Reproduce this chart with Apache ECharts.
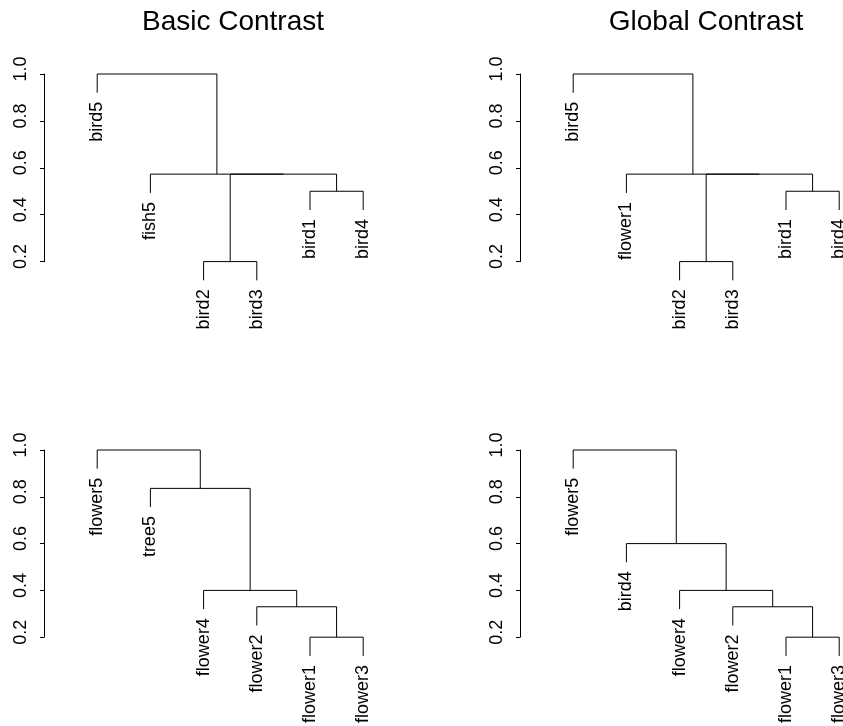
<!DOCTYPE html>
<html>
<head>
<meta charset="utf-8">
<script src="https://cdn.jsdelivr.net/npm/echarts@6/dist/echarts.min.js"></script>
<style>html,body{margin:0;padding:0;background:#fff}#c{width:843px;height:726px}</style>
</head>
<body>
<div id="c"></div>
<script>
// ---- data ----
const titles = ['Basic Contrast', 'Global Contrast'];
const yTicks = [0.2, 0.4, 0.6, 0.8, 1.0];

// leaves in plotting order; merges use R hclust convention (negative = leaf, positive = earlier merge)
const tlLabels = ['bird5', 'fish5', 'bird2', 'bird3', 'bird1', 'bird4'];
const tlMerge = [[-3, -4], [-5, -6], [1, 2], [-2, 3], [-1, 4]];
const tlHeight = [0.2, 0.5, 0.573, 0.573, 1.0];

const trLabels = ['bird5', 'flower1', 'bird2', 'bird3', 'bird1', 'bird4'];
const trMerge = [[-3, -4], [-5, -6], [1, 2], [-2, 3], [-1, 4]];
const trHeight = [0.2, 0.5, 0.573, 0.573, 1.0];

const blLabels = ['flower5', 'tree5', 'flower4', 'flower2', 'flower1', 'flower3'];
const blMerge = [[-5, -6], [-4, 1], [-3, 2], [-2, 3], [-1, 4]];
const blHeight = [0.2, 0.33, 0.4, 0.836, 1.0];

const brLabels = ['flower5', 'bird4', 'flower4', 'flower2', 'flower1', 'flower3'];
const brMerge = [[-5, -6], [-4, 1], [-3, 2], [-2, 3], [-1, 4]];
const brHeight = [0.2, 0.33, 0.4, 0.6, 1.0];

// ---- build dendrogram segments in data space ----
function build(labels, merge, height) {
  const hang = 0.1 * (Math.max.apply(null, height) - Math.min.apply(null, height));
  const segs = [], leaves = [];
  const nx = [], ny = [];
  function pos(r) {
    if (r < 0) return { x: -r, leaf: true };
    return { x: nx[r - 1], y: ny[r - 1], leaf: false };
  }
  merge.forEach(function (m, i) {
    const h = height[i];
    const a = pos(m[0]), b = pos(m[1]);
    [a, b].forEach(function (c) {
      const bottom = c.leaf ? h - hang : c.y;
      if (bottom !== h) segs.push([c.x, h, c.x, bottom]);
      if (c.leaf) leaves.push([c.x, h - hang, labels[c.x - 1]]);
    });
    segs.push([a.x, h, b.x, h]);
    nx.push((a.x + b.x) / 2);
    ny.push(h);
  });
  return { segs: segs, leaves: leaves };
}

const trees = [
  build(tlLabels, tlMerge, tlHeight),
  build(trLabels, trMerge, trHeight),
  build(blLabels, blMerge, blHeight),
  build(brLabels, brMerge, brHeight)
];

const FONT = "'Liberation Sans', Arial, Helvetica, sans-serif";
const fullW = 372.4;          // width of a full panel (x range 0..7)
const rightW = 843 - 520;     // right panels are cut by the page edge
const panelLeft = [44, 520, 44, 520];
const panelTop = [74, 74, 450, 450];
const panelH = [187.6, 187.6, 187.2, 187.2];
const panelW = [fullW, rightW, fullW, rightW];

const grids = [], xAxes = [], yAxes = [], series = [];
for (let i = 0; i < 4; i++) {
  grids.push({ left: panelLeft[i], top: panelTop[i], width: panelW[i], height: panelH[i], containLabel: false });
  xAxes.push({ type: 'value', gridIndex: i, min: 0, max: 7 * panelW[i] / fullW, show: false });
  yAxes.push({
    type: 'value', gridIndex: i, min: yTicks[0], max: yTicks[yTicks.length - 1], interval: 0.2,
    axisLine: { show: true, lineStyle: { color: '#000', width: 1 } },
    axisTick: { show: true, length: 4, lineStyle: { color: '#000', width: 1 } },
    splitLine: { show: false },
    axisLabel: {
      rotate: 90, margin: 14, color: '#000', fontSize: 18, fontFamily: FONT,
      padding: [0, 0, 0, 10],
      formatter: function (v) { return v.toFixed(1); }
    }
  });
  series.push({
    type: 'custom', xAxisIndex: i, yAxisIndex: i, clip: false, silent: true,
    data: trees[i].segs,
    encode: { x: [0, 2], y: [1, 3] },
    renderItem: function (params, api) {
      const p1 = api.coord([api.value(0), api.value(1)]);
      const p2 = api.coord([api.value(2), api.value(3)]);
      return {
        type: 'line',
        shape: { x1: p1[0], y1: p1[1], x2: p2[0], y2: p2[1] },
        style: { stroke: '#000', lineWidth: 1 }
      };
    }
  });
  series.push({
    type: 'custom', xAxisIndex: i, yAxisIndex: i, clip: false, silent: true,
    data: trees[i].leaves,
    dimensions: ['x', 'y', { name: 'label', type: 'ordinal' }],
    encode: { x: 0, y: 1 },
    renderItem: function (params, api) {
      const p = api.coord([api.value(0), api.value(1)]);
      return {
        type: 'text',
        x: p[0], y: p[1] + 9, rotation: Math.PI / 2,
        style: {
          text: String(api.value(2)), fill: '#000', fontSize: 18, fontFamily: FONT,
          align: 'right', verticalAlign: 'middle', textAlign: 'right', textVerticalAlign: 'middle'
        }
      };
    }
  });
}

const chart = echarts.init(document.getElementById('c'), null, { renderer: 'canvas' });
chart.setOption({
  animation: false,
  backgroundColor: '#fff',
  grid: grids,
  xAxis: xAxes,
  yAxis: yAxes,
  graphic: [
    { type: 'text', x: 233, y: 36, style: { text: titles[0], fill: '#000', fontSize: 28, fontFamily: FONT, align: 'center', verticalAlign: 'bottom', textAlign: 'center', textVerticalAlign: 'bottom' } },
    { type: 'text', x: 706, y: 36, style: { text: titles[1], fill: '#000', fontSize: 28, fontFamily: FONT, align: 'center', verticalAlign: 'bottom', textAlign: 'center', textVerticalAlign: 'bottom' } }
  ],
  series: series
});
</script>
</body>
</html>
